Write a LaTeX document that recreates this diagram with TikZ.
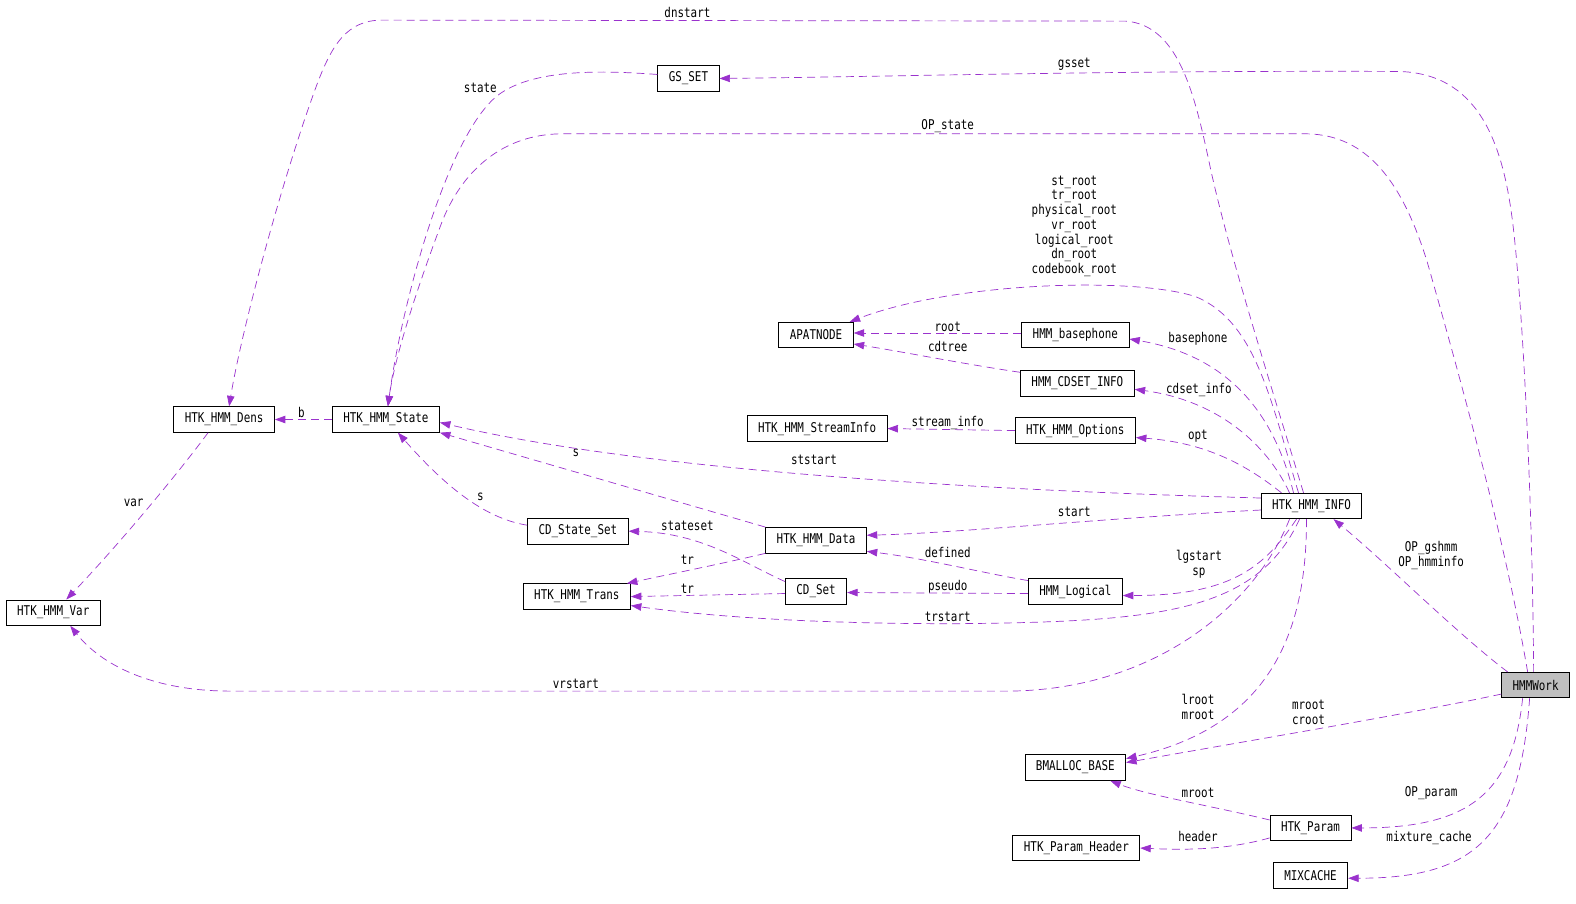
\documentclass[tikz,border=0pt]{standalone}
\usepackage{fontspec}
\setmonofont[FakeStretch=0.81]{DejaVu Sans Mono}
\usetikzlibrary{arrows.meta}
\definecolor{edgepurple}{HTML}{9A32CD}

\begin{document}
\begin{tikzpicture}[x=1.005bp,y=-1.006bp,
    cls/.style={draw,line width=0.8pt,font=\ttfamily\fontsize{13.5}{14}\selectfont,
      minimum height=25.5bp,inner xsep=11bp,inner ysep=0pt},
    lbl/.style={font=\ttfamily\fontsize{13.5}{14.8}\selectfont,align=center,inner sep=0pt},
    rel/.style={draw=edgepurple,line width=0.7pt,dash pattern=on 8pt off 5pt,
      -{Triangle[length=10.5pt,width=7.5pt,fill=edgepurple]}}]
  \useasboundingbox (0,0) rectangle (1576bp,-904bp);
    % classes
    \foreach \n/\x/\y/\t in {dens/223/417/HTK\_HMM\_Dens, state/384/417/HTK\_HMM\_State,
        var/53/609/HTK\_HMM\_Var, gs/685/78/GS\_SET, apat/812/333/APATNODE,
        base/1070/333/HMM\_basephone, cdset/1072/381/HMM\_CDSET\_INFO,
        sinfo/813/426/HTK\_HMM\_StreamInfo, opts/1070/428/HTK\_HMM\_Options,
        info/1305/503/HTK\_HMM\_INFO, data/812/537/HTK\_HMM\_Data,
        cdss/575/528/CD\_State\_Set, trans/574/593/HTK\_HMM\_Trans, cds/812/588/CD\_Set,
        logical/1070/588/HMM\_Logical, bm/1070/763/BMALLOC\_BASE,
        param/1304/823/HTK\_Param, phead/1071/843/HTK\_Param\_Header, mix/1304/870/MIXCACHE}{
        \node[cls] (\n) at (\x,\y) {\t};
    }
    \node[cls,fill=gray!50] (work) at (1528,681) {HMMWork};
    % member labels
    \foreach \n/\x/\y/\t in {lDnstart/684/12/dnstart, lGsset/1069/64/gsset,
        lState/478/87/state, lOpState/943/125/OP\_state,
        lRoots/1069/225/{st\_root\\tr\_root\\physical\_root\\vr\_root\\logical\_root\\dn\_root\\codebook\_root},
        lRoot/943/325/root, lCdtree/943/344/cdtree, lBasephone/1192/337/basephone,
        lCdset/1193/388/cdset\_info, lStream/943/420/stream\_info, lOpt/1192/434/opt,
        lStstart/810/457/ststart, lSdata/573/450/s, lScds/478/494/s, lB/300/410/b,
        lVar/133/500/var, lStateset/684/523/stateset, lTrdata/684/556/tr,
        lTrcds/684/585/tr, lStart/1069/509/start, lDefined/943/549/defined,
        lPseudo/943/583/pseudo, lLgstart/1193/561/{lgstart\\sp}, lTrstart/943/613/trstart,
        lVrstart/573/680/vrstart, lGshmm/1424/552/{OP\_gshmm\\OP\_hmminfo},
        lLroot/1192/703/{lroot\\mroot}, lMroot/1302/708/{mroot\\croot},
        lMrootp/1192/788/mroot, lHeader/1192/831/header, lOpparam/1424/788/OP\_param,
        lMix/1422/833/mixture\_cache}{
        \node[lbl] (\n) at (\x,\y) {\t};
    }
    % long loops over the top
    \draw[rel] ([xshift=-8bp]info.north) .. controls (1270,400) and (1225,260) .. (1205,170)
        .. controls (1190,100) and (1175,25) .. (1120,21) -- (380,20)
        .. controls (345,20) and (330,45) .. (315,85)
        .. controls (280,180) and (240,330) .. ([xshift=5bp]dens.north);
    \draw[rel] ([xshift=-2bp]work.north) .. controls (1525,500) and (1515,300) .. (1505,220)
        .. controls (1495,140) and (1470,72) .. (1390,71)
        .. controls (1100,70) and (900,76) .. (gs.east);
    \draw[rel] ([xshift=-8bp]work.north) .. controls (1500,550) and (1460,400) .. (1420,260)
        .. controls (1395,180) and (1360,134) .. (1300,133) -- (560,133)
        .. controls (500,133) and (460,170) .. (440,220)
        .. controls (410,300) and (392,360) .. ([xshift=2bp]state.north);
    \draw[rel] ([yshift=4bp]gs.west) .. controls (600,70) and (530,68) .. (495,95)
        .. controls (445,135) and (400,300) .. ([xshift=2bp]state.north);
    % out of HTK_HMM_INFO
    \draw[rel] ([xshift=-13bp]info.north) .. controls (1265,400) and (1250,320) .. (1190,295)
        .. controls (1130,275) and (950,280) .. ([xshift=-4bp]apat.north east);
    \draw[rel] ([xshift=-18bp]info.north) .. controls (1270,420) and (1230,355) .. ([yshift=-4bp]base.east);
    \draw[rel] ([xshift=-22bp]info.north) .. controls (1260,440) and (1210,398) .. ([yshift=-6bp]cdset.east);
    \draw[rel] ([xshift=-30bp]info.north) .. controls (1240,462) and (1200,440) .. ([yshift=-7bp]opts.east);
    \draw[rel] ([yshift=8bp]info.west) .. controls (1000,488) and (650,470) .. ([yshift=-3bp]state.east);
    \draw[rel] ([yshift=-4bp]info.west) .. controls (1100,515) and (950,530) .. ([yshift=5bp]data.east);
    \draw[rel] ([xshift=-22bp]info.south) .. controls (1250,600) and (1150,687) .. (1000,687) -- (230,687)
        .. controls (150,687) and (100,660) .. ([xshift=17bp]var.south);
    \draw[rel] ([xshift=-15bp]info.south) .. controls (1260,560) and (1230,592) .. ([yshift=-4bp]logical.east);
    \draw[rel] ([xshift=-12bp]info.south) .. controls (1250,610) and (1150,618) .. (950,620)
        .. controls (800,620) and (700,612) .. ([yshift=-9bp]trans.east);
    \draw[rel] ([xshift=-5bp]info.south) .. controls (1300,620) and (1270,720) .. ([yshift=9bp]bm.east);
    % the rest
    \draw[rel] ([yshift=2bp]base.west) -- ([yshift=2bp]apat.east);
    \draw[rel] ([yshift=11bp]cdset.west) .. controls (960,362) and (900,350) .. ([yshift=-9bp]apat.east);
    \draw[rel] (opts.west) -- (sinfo.east);
    \draw[rel] (data.north west) -- (state.south east);
    \draw[rel] ([yshift=6bp]cdss.west) .. controls (480,515) and (440,480) .. ([xshift=12bp]state.south);
    \draw[rel] (state.west) -- (dens.east);
    \draw[rel] ([xshift=-16bp]dens.south) .. controls (170,480) and (110,550) .. ([xshift=13bp]var.north);
    \draw[rel] ([yshift=11bp]logical.west) .. controls (980,570) and (920,555) .. ([yshift=2bp]data.south east);
    \draw[rel] ([yshift=10bp]cds.west) .. controls (740,560) and (700,530) .. (cdss.east);
    \draw[rel] (data.south west) .. controls (720,560) and (670,570) .. ([xshift=-4bp]trans.north east);
    \draw[rel] ([yshift=-2bp]cds.west) -- (trans.east);
    \draw[rel] ([yshift=-2bp]logical.west) -- ([yshift=-1bp]cds.east);
    \draw[rel] ([xshift=-28bp]work.north) .. controls (1450,630) and (1380,560) .. ([xshift=22bp]info.south);
    \draw[rel] ([yshift=-9bp]work.west) .. controls (1400,710) and (1250,735) .. ([yshift=5bp]bm.east);
    \draw[rel] ([yshift=8bp]param.west) .. controls (1200,800) and (1140,790) .. ([xshift=35bp]bm.south);
    \draw[rel] ([yshift=-10bp]param.west) .. controls (1220,845) and (1180,845) .. (phead.east);
    \draw[rel] ([xshift=-13bp]work.south) .. controls (1505,790) and (1460,823) .. (param.east);
    \draw[rel] ([xshift=-6bp]work.south) .. controls (1512,830) and (1470,873) .. ([yshift=-3bp]mix.east);
\end{tikzpicture}
\end{document}
